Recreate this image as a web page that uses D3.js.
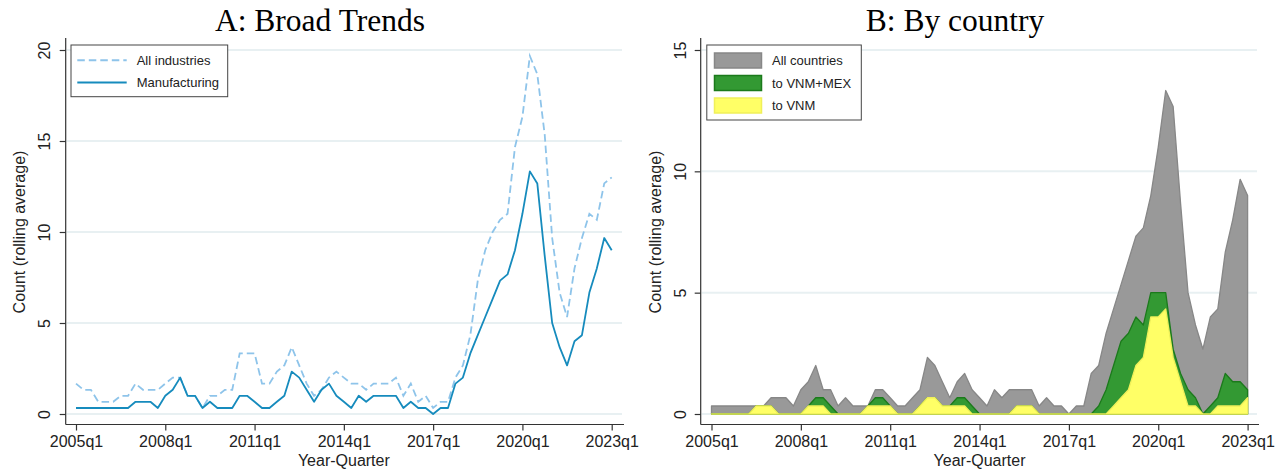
<!DOCTYPE html>
<html>
<head>
<meta charset="utf-8">
<script src="https://cdn.jsdelivr.net/npm/d3@7"></script>
<style>
  body { margin: 0; background: #fff; }
  svg { display: block; }
</style>
</head>
<body>
<svg width="1280" height="470"></svg>
<script>
// quarters 2005q1 .. 2023q1 (index 0..72)
const quarters = [];
for (let y = 2005; y <= 2023; y++) {
  for (let q = 1; q <= 4; q++) {
    if (y === 2023 && q > 1) break;
    quarters.push(y + "q" + q);
  }
}
const xTickLabels = ["2005q1", "2008q1", "2011q1", "2014q1", "2017q1", "2020q1", "2023q1"];
const yTicksA = [0, 5, 10, 15, 20];
const yTicksB = [0, 5, 10, 15];

// Panel A: rolling averages
const allIndustries = [
  1.67, 1.33, 1.33, 0.67, 0.67, 0.67, 1.0, 1.0, 1.67, 1.33,
  1.33, 1.33, 1.67, 2.0, 2.0, 1.0, 1.0, 0.33, 1.0, 1.0,
  1.33, 1.33, 3.33, 3.33, 3.33, 1.67, 1.67, 2.33, 2.67, 3.67,
  2.67, 1.67, 1.0, 1.33, 2.0, 2.33, 2.0, 1.67, 1.67, 1.33,
  1.67, 1.67, 1.67, 2.0, 1.0, 1.67, 0.67, 1.0, 0.33, 0.67,
  0.67, 2.0, 2.67, 4.33, 7.33, 9.0, 10.0, 10.67, 11.0, 14.67,
  16.33, 19.67, 18.67, 15.33, 9.67, 6.67, 5.33, 8.0, 9.67, 11.0,
  10.67, 12.67, 13.0
];
const manufacturing = [
  0.33, 0.33, 0.33, 0.33, 0.33, 0.33, 0.33, 0.33, 0.67, 0.67,
  0.67, 0.33, 1.0, 1.33, 2.0, 1.0, 1.0, 0.33, 0.67, 0.33,
  0.33, 0.33, 1.0, 1.0, 0.67, 0.33, 0.33, 0.67, 1.0, 2.33,
  2.0, 1.33, 0.67, 1.33, 1.67, 1.0, 0.67, 0.33, 1.0, 0.67,
  1.0, 1.0, 1.0, 1.0, 0.33, 0.67, 0.33, 0.33, 0, 0.33,
  0.33, 1.67, 2.0, 3.33, 4.33, 5.33, 6.33, 7.33, 7.67, 9.0,
  11.0, 13.33, 12.67, 8.67, 5.0, 3.67, 2.67, 4.0, 4.33, 6.67,
  8.0, 9.67, 9.0
];

// Panel B: by destination country
const allCountries = manufacturing;
const toVnmMex = [
  0, 0, 0, 0, 0, 0, 0.33, 0.33, 0.33, 0,
  0, 0, 0, 0.33, 0.67, 0.67, 0.33, 0, 0, 0,
  0, 0.33, 0.67, 0.67, 0.33, 0, 0, 0, 0.33, 0.67,
  0.67, 0.33, 0.33, 0.67, 0.67, 0.33, 0, 0, 0, 0,
  0, 0.33, 0.33, 0.33, 0, 0, 0, 0, 0, 0,
  0, 0, 0.33, 1.0, 2.0, 3.0, 3.33, 4.0, 3.67, 5.0,
  5.0, 5.0, 2.67, 1.67, 1.0, 0.67, 0, 0.33, 0.67, 1.67,
  1.33, 1.33, 1.0
];
const toVnm = [
  0, 0, 0, 0, 0, 0, 0.33, 0.33, 0.33, 0,
  0, 0, 0, 0.33, 0.33, 0.33, 0, 0, 0, 0,
  0, 0.33, 0.33, 0.33, 0.33, 0, 0, 0, 0.33, 0.67,
  0.67, 0.33, 0.33, 0.33, 0.33, 0, 0, 0, 0, 0,
  0, 0.33, 0.33, 0.33, 0, 0, 0, 0, 0, 0,
  0, 0, 0, 0, 0.33, 0.67, 1.0, 2.0, 2.33, 4.0,
  4.0, 4.33, 2.33, 1.33, 0.33, 0.33, 0, 0, 0.33, 0.33,
  0.33, 0.33, 0.67
];

const svg = d3.select("svg");
const sans = "Liberation Sans, Arial, sans-serif";
const serif = "Liberation Serif, Times New Roman, serif";
const axisCol = "#333";
const gridCol = "#e8f0f2";

function drawFrame(g, opts) {
  const { x, y, yTicks, title, titleX, left, right, top, bottom, ytitleX, ylabX } = opts;

  // gridlines
  g.selectAll(".grid").data(yTicks).enter().append("line")
    .attr("x1", left + 1).attr("x2", right - 2)
    .attr("y1", d => y(d)).attr("y2", d => y(d))
    .attr("stroke", gridCol).attr("stroke-width", 2);

  // axis lines
  g.append("line").attr("x1", left).attr("x2", left).attr("y1", top).attr("y2", bottom)
    .attr("stroke", axisCol).attr("stroke-width", 1.2);
  g.append("line").attr("x1", left).attr("x2", right).attr("y1", bottom).attr("y2", bottom)
    .attr("stroke", axisCol).attr("stroke-width", 1.2);

  // x axis ticks
  const xAxis = d3.axisBottom(x)
    .tickValues(xTickLabels.map(l => quarters.indexOf(l)))
    .tickFormat(i => quarters[i])
    .tickSize(6).tickSizeOuter(0);
  const gx = g.append("g").attr("transform", `translate(0,${bottom})`).call(xAxis);
  gx.select(".domain").remove();
  gx.selectAll("line").attr("stroke", axisCol).attr("stroke-width", 1.2);
  gx.selectAll("text").attr("font-family", sans).attr("font-size", 16)
    .attr("fill", "#222").attr("dy", null).attr("y", 22);

  // y axis ticks (labels rotated)
  const yAxis = d3.axisLeft(y).tickValues(yTicks).tickSize(6).tickSizeOuter(0);
  const gy = g.append("g").attr("transform", `translate(${left},0)`).call(yAxis);
  gy.select(".domain").remove();
  gy.selectAll("line").attr("stroke", axisCol).attr("stroke-width", 1.2);
  gy.selectAll("text")
    .attr("font-family", sans).attr("font-size", 16).attr("fill", "#222")
    .attr("x", null).attr("dy", null)
    .attr("text-anchor", "middle").attr("dominant-baseline", "central")
    .attr("transform", function() {
      return `translate(${ylabX - left},0) rotate(-90)`;
    });

  // axis titles
  g.append("text")
    .attr("transform", `translate(${ytitleX},232) rotate(-90)`)
    .attr("text-anchor", "middle").attr("dominant-baseline", "central")
    .attr("font-family", sans).attr("font-size", 16).attr("fill", "#222")
    .text("Count (rolling average)");
  g.append("text")
    .attr("x", (x(0) + x(72)) / 2).attr("y", 466)
    .attr("text-anchor", "middle")
    .attr("font-family", sans).attr("font-size", 16).attr("fill", "#222")
    .text("Year-Quarter");

  // panel title
  g.append("text")
    .attr("x", titleX).attr("y", 31)
    .attr("text-anchor", "middle")
    .attr("font-family", serif).attr("font-size", 31.5).attr("fill", "#000")
    .text(title);
}

// ---------- Panel A ----------
const xA = d3.scaleLinear().domain([0, 72]).range([76, 611.7]);
const yA = d3.scaleLinear().domain([0, 20]).range([414, 50]);
const gA = svg.append("g");
drawFrame(gA, { x: xA, y: yA, yTicks: yTicksA, title: "A: Broad Trends", titleX: 320,
  left: 65.7, right: 624, top: 38, bottom: 424.5, ytitleX: 19.5, ylabX: 44.5 });

const lineA = d3.line().x((d, i) => xA(i)).y(d => yA(d));
gA.append("path").datum(allIndustries)
  .attr("d", lineA).attr("fill", "none")
  .attr("stroke", "#8ec4ea").attr("stroke-width", 1.8)
  .attr("stroke-dasharray", "7.5,4");
gA.append("path").datum(manufacturing)
  .attr("d", lineA).attr("fill", "none")
  .attr("stroke", "#168bbd").attr("stroke-width", 1.8)
  .attr("stroke-linejoin", "round");

// legend A
const legA = gA.append("g");
legA.append("rect").attr("x", 71).attr("y", 45).attr("width", 156.7).attr("height", 51.7)
  .attr("fill", "#fff").attr("stroke", "#444").attr("stroke-width", 1);
const legItemsA = [
  { name: "All industries", color: "#8ec4ea", dash: "7.5,4", y: 60.3 },
  { name: "Manufacturing", color: "#168bbd", dash: null, y: 82.5 }
];
legItemsA.forEach(it => {
  legA.append("line").attr("x1", 77.3).attr("x2", 126.7).attr("y1", it.y).attr("y2", it.y)
    .attr("stroke", it.color).attr("stroke-width", 2).attr("stroke-dasharray", it.dash);
  legA.append("text").attr("x", 136.7).attr("y", it.y).attr("dominant-baseline", "central")
    .attr("font-family", sans).attr("font-size", 13).attr("fill", "#222").text(it.name);
});

// ---------- Panel B ----------
const xB = d3.scaleLinear().domain([0, 72]).range([711.5, 1247.6]);
const yB = d3.scaleLinear().domain([0, 15]).range([414, 50]);
const gB = svg.append("g");
drawFrame(gB, { x: xB, y: yB, yTicks: yTicksB, title: "B: By country", titleX: 955,
  left: 700.7, right: 1259, top: 38, bottom: 424.5, ytitleX: 655.5, ylabX: 680 });

const areaB = d3.area().x((d, i) => xB(i)).y0(yB(0)).y1(d => yB(d));
const seriesB = [
  { name: "All countries", data: allCountries, fill: "#999999", stroke: "#878787" },
  { name: "to VNM+MEX", data: toVnmMex, fill: "#339933", stroke: "#1b7a1b" },
  { name: "to VNM", data: toVnm, fill: "#ffff66", stroke: "#f0f05a" }
];
seriesB.forEach(s => {
  gB.append("path").datum(s.data)
    .attr("d", areaB).attr("fill", s.fill)
    .attr("stroke", s.stroke).attr("stroke-width", 1.3)
    .attr("stroke-linejoin", "round");
});

// legend B
const legB = gB.append("g");
legB.append("rect").attr("x", 706.8).attr("y", 45).attr("width", 154.5).attr("height", 75)
  .attr("fill", "#fff").attr("stroke", "#444").attr("stroke-width", 1);
seriesB.forEach((s, k) => {
  const yy = 53 + k * 22.5;
  legB.append("rect").attr("x", 714.5).attr("y", yy).attr("width", 47).attr("height", 15)
    .attr("fill", s.fill).attr("stroke", s.stroke).attr("stroke-width", 1.5);
  legB.append("text").attr("x", 772).attr("y", yy + 7.5).attr("dominant-baseline", "central")
    .attr("font-family", sans).attr("font-size", 13).attr("fill", "#222").text(s.name);
});
</script>
</body>
</html>
